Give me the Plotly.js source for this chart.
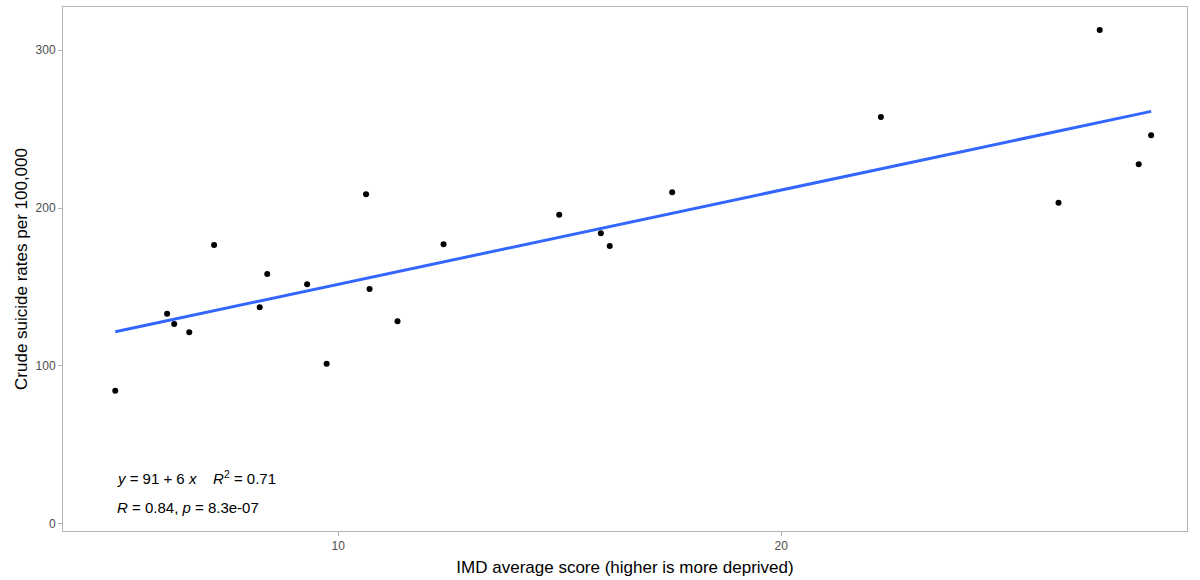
<!DOCTYPE html>
<html>
<head>
<meta charset="utf-8">
<script src="https://cdn.plot.ly/plotly-3.0.1.min.js"></script>
<style>
html,body{margin:0;padding:0;background:#fff;}
#chart{width:1200px;height:580px;}
</style>
</head>
<body>
<div id="chart"></div>
<script>
// IMD average score (x) and crude suicide rates per 100,000 (y)
const imdScore = [4.97, 6.14, 6.30, 6.64, 7.20, 8.23, 8.40, 9.30, 9.74, 10.63, 10.71,
                  11.34, 12.38, 14.99, 15.93, 16.13, 17.54, 22.25, 26.26, 27.19, 28.07, 28.35];
const suicideRate = [84.3, 133.1, 126.6, 121.3, 176.6, 137.1, 158.2, 151.7, 101.4, 208.7, 148.7,
                     128.3, 177.1, 195.8, 184.0, 176.0, 210.0, 257.7, 203.4, 312.9, 227.8, 246.1];
const xTicks = [10, 20];
const yTicks = [0, 100, 200, 300];
const eqLabel = "<i>y</i> = 91 + 6 <i>x</i>    <i>R</i><sup>2</sup> = 0.71";
const statLabel = "<i>R</i> = 0.84, <i>p</i> = 8.3e-07";

// least-squares fit computed from the data
const n = imdScore.length;
const mx = imdScore.reduce((a,b)=>a+b,0)/n;
const my = suicideRate.reduce((a,b)=>a+b,0)/n;
let sxy = 0, sxx = 0;
for (let i = 0; i < n; i++) { sxy += (imdScore[i]-mx)*(suicideRate[i]-my); sxx += (imdScore[i]-mx)**2; }
const slope = sxy/sxx, intercept = my - slope*mx;
const xMin = Math.min(...imdScore), xMax = Math.max(...imdScore);
const fitX = [xMin, xMax];
const fitY = fitX.map(v => intercept + slope*v);

const font = "Liberation Sans, Arial, sans-serif";

const traces = [
  {x: fitX, y: fitY, type: 'scatter', mode: 'lines',
   line: {color: '#3366FF', width: 3}, hoverinfo: 'skip'},
  {x: imdScore, y: suicideRate, type: 'scatter', mode: 'markers',
   marker: {color: '#000000', size: 6}}
];

const layout = {
  width: 1200, height: 580,
  margin: {l: 63, r: 13, t: 7, b: 49},
  paper_bgcolor: '#ffffff', plot_bgcolor: '#ffffff',
  showlegend: false,
  font: {family: font, color: '#4d4d4d'},
  xaxis: {
    range: [3.79, 29.16], tickvals: xTicks, ticktext: xTicks.map(String),
    showgrid: false, zeroline: false,
    showline: true, mirror: true, linecolor: '#b3b3b3', linewidth: 1,
    ticks: 'outside', ticklen: 4, tickcolor: '#b3b3b3',
    tickfont: {size: 12, color: '#4d4d4d', family: font},
    title: {text: 'IMD average score (higher is more deprived)', font: {size: 17, color: '#000', family: font}, standoff: 8}
  },
  yaxis: {
    range: [-4.6, 327.4], tickvals: yTicks, ticktext: yTicks.map(String),
    showgrid: false, zeroline: false,
    showline: true, mirror: true, linecolor: '#b3b3b3', linewidth: 1,
    ticks: 'outside', ticklen: 4, tickcolor: '#b3b3b3',
    tickfont: {size: 12, color: '#4d4d4d', family: font},
    title: {text: 'Crude suicide rates per 100,000', font: {size: 17, color: '#000', family: font}, standoff: 3}
  },
  annotations: [
    {x: 4.97, y: 29.6, xref: 'x', yref: 'y', xanchor: 'left', yanchor: 'middle',
     text: eqLabel, showarrow: false, font: {size: 15, color: '#000', family: font}},
    {x: 4.97, y: 10.6, xref: 'x', yref: 'y', xanchor: 'left', yanchor: 'middle',
     text: statLabel, showarrow: false, font: {size: 15, color: '#000', family: font}}
  ]
};

Plotly.newPlot('chart', traces, layout, {displayModeBar: false, staticPlot: true});
</script>
</body>
</html>
